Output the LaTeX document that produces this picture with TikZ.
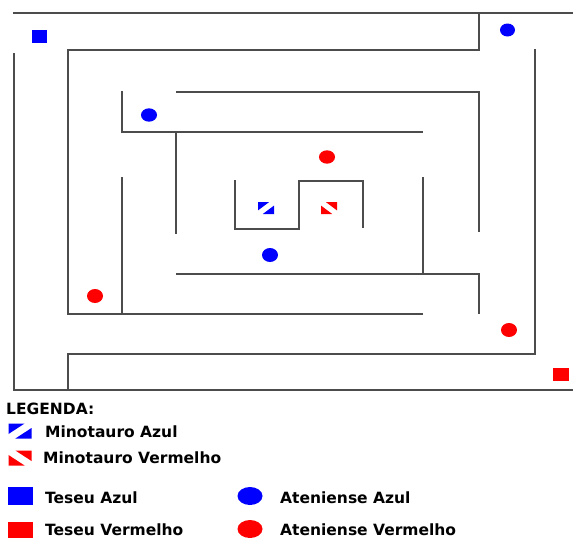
\documentclass[tikz,border=0pt]{standalone}
\usepackage{fontspec}
\usepackage{tikz}
\newfontfamily\legendfont{DejaVu Sans}

\begin{document}
\begin{tikzpicture}[x=1pt, y=-1pt,
    wall/.style={line width=1.4pt, black!70},
    legtext/.style={anchor=base west, inner sep=0pt,
        font=\legendfont\bfseries\fontsize{15.5}{18}\selectfont},
    minoazul/.pic={
        \fill[blue] (-0.5,-0.5) -- (0.2,-0.5) -- (-0.5,0.2) -- cycle;
        \fill[blue] (0.5,-0.2) -- (0.5,0.5) -- (-0.2,0.5) -- cycle;},
    minovermelho/.pic={
        \fill[red] (-0.5,-0.2) -- (-0.5,0.5) -- (0.2,0.5) -- cycle;
        \fill[red] (-0.2,-0.5) -- (0.5,-0.5) -- (0.5,0.2) -- cycle;}]
    \useasboundingbox (0,0) rectangle (573,538);
    % Paredes do labirinto
    \draw[wall] (13,13) -- (573,13);
    \draw[wall] (14,53) -- (14,390) -- (573,390);
    \draw[wall] (68,390) -- (68,354) -- (535,354) -- (535,49);
    \draw[wall] (423,314) -- (68,314) -- (68,50) -- (479,50) -- (479,13);
    \draw[wall] (122,177) -- (122,314);
    \draw[wall] (122,91) -- (122,132) -- (423,132);
    \draw[wall] (176,92) -- (479,92) -- (479,232);
    \draw[wall] (176,132) -- (176,234);
    \draw[wall] (235,180) -- (235,229) -- (299,229) -- (299,181) -- (363,181) -- (363,228);
    \draw[wall] (423,177) -- (423,274);
    \draw[wall] (176,274) -- (479,274) -- (479,314);
    % Teseus
    \fill[blue] (32,30) rectangle (47,43);
    \fill[red] (553,368) rectangle (569,381);
    % Atenienses
    \fill[blue] (149,115) ellipse [x radius=8, y radius=6.7];
    \fill[blue] (507.5,30) ellipse [x radius=7.5, y radius=6.5];
    \fill[blue] (270,255) ellipse [x radius=8, y radius=7];
    \fill[red] (327,157) ellipse [x radius=8, y radius=6.7];
    \fill[red] (95,296) ellipse [x radius=8, y radius=7];
    \fill[red] (509,330) ellipse [x radius=8, y radius=7];
    % Minotauros
    \pic[xscale=16, yscale=12] at (266,208) {minoazul};
    \pic[xscale=16, yscale=12] at (329,208) {minovermelho};

    % Legenda
    \node[legtext] (legenda) at (6,414) {LEGENDA:};
    \pic[xscale=23, yscale=15] at (20,431) {minoazul};
    \node[legtext] (mazul) at (45,437) {Minotauro Azul};
    \pic[xscale=23, yscale=15] at (20,458) {minovermelho};
    \node[legtext] (mverm) at (43,463) {Minotauro Vermelho};
    \fill[blue] (8,487) rectangle (33,505);
    \node[legtext] (tazul) at (45,503) {Teseu Azul};
    \fill[red] (8,522) rectangle (33,540);
    \node[legtext] (tverm) at (45,535) {Teseu Vermelho};
    \fill[blue] (250,496) ellipse [x radius=12.5, y radius=9];
    \node[legtext] (aazul) at (280,503) {Ateniense Azul};
    \fill[red] (250,529) ellipse [x radius=12.5, y radius=9];
    \node[legtext] (averm) at (280,535) {Ateniense Vermelho};
\end{tikzpicture}
\end{document}
